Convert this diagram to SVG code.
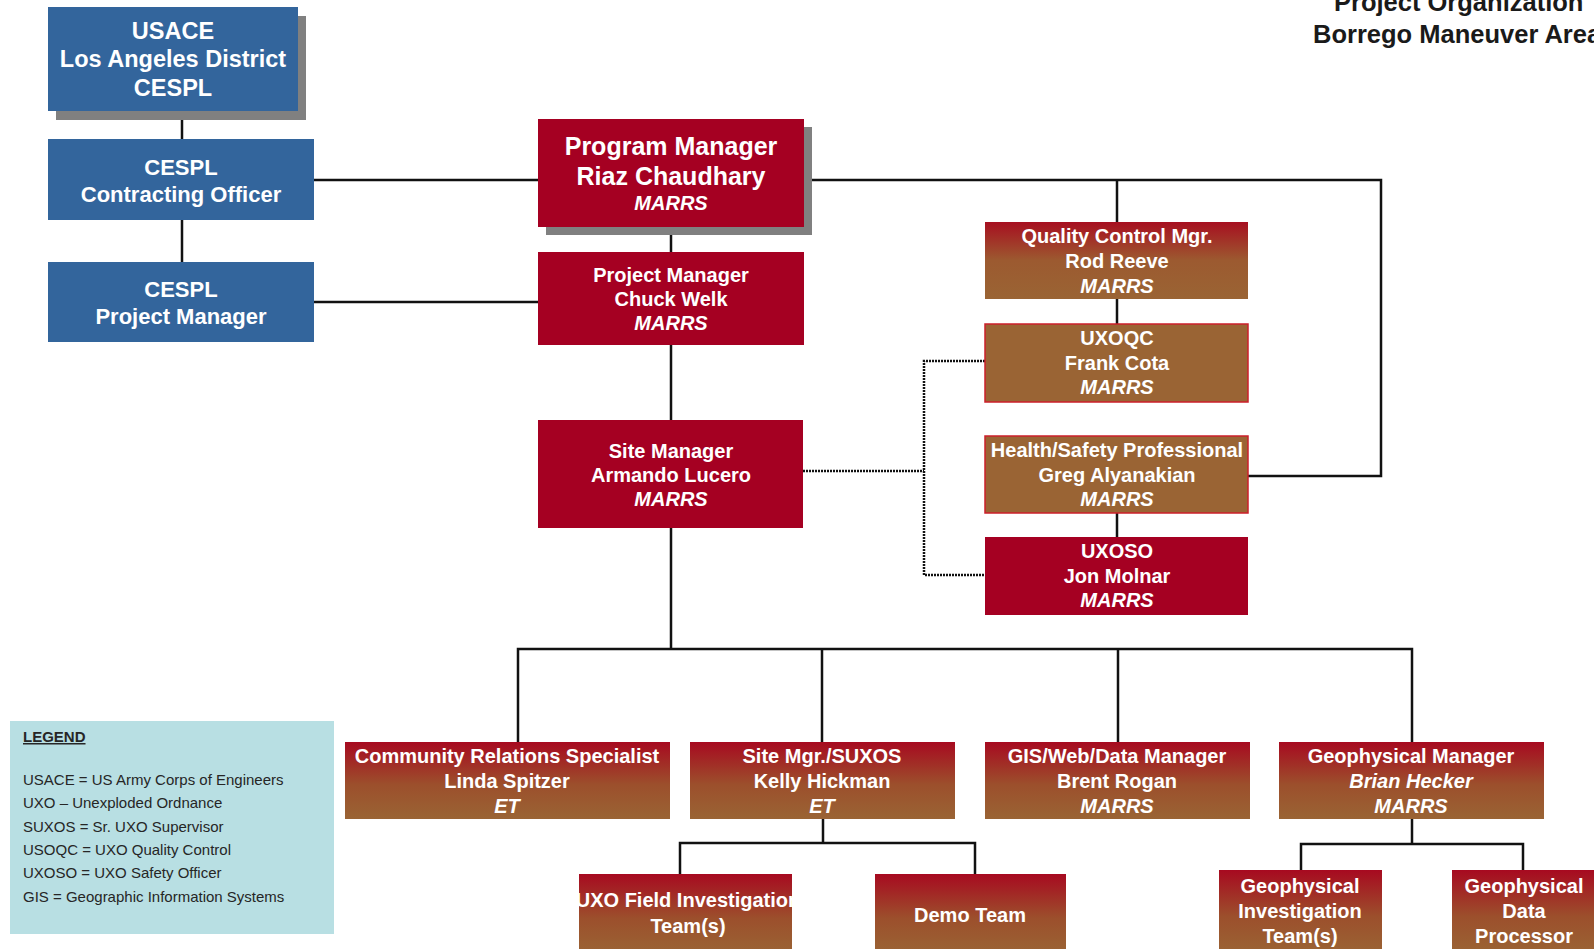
<svg xmlns="http://www.w3.org/2000/svg" width="1594" height="949" viewBox="0 0 1594 949">
<defs>
<linearGradient id="grad" x1="0" y1="0" x2="0" y2="1">
<stop offset="0" stop-color="#a70a20"/>
<stop offset="0.55" stop-color="#9c4f2c"/>
<stop offset="1" stop-color="#9a6434"/>
</linearGradient>
<linearGradient id="gradQC" x1="0" y1="0" x2="0" y2="1">
<stop offset="0" stop-color="#a70f20"/>
<stop offset="0.5" stop-color="#9c5a30"/>
<stop offset="1" stop-color="#9a6434"/>
</linearGradient>
<clipPath id="clipUxo"><rect x="579" y="874" width="213" height="80"/></clipPath>
</defs>
<style>
.blue{fill:#33659c}
.red{fill:#a50022}
.brown{fill:#9a6434;stroke:#cc1f2a;stroke-width:1.5}
.grad{fill:url(#grad)}
.shadow{fill:#808080}
.t{font-family:"Liberation Sans",Arial,sans-serif;font-weight:bold;fill:#ffffff;text-anchor:middle}
.s20{font-size:20px}
.s22{font-size:22px}
.s23{font-size:23.5px}
.s25{font-size:25px}
.i{font-style:italic}
.line{stroke:#111;stroke-width:2.5;fill:none}
.dot{stroke:#111;stroke-width:2.5;fill:none;stroke-dasharray:2 1}
.title{font-family:"Liberation Sans",Arial,sans-serif;font-weight:bold;font-size:25.5px;fill:#1a1a1a}
.leg{font-family:"Liberation Sans",Arial,sans-serif;font-size:15px;fill:#262626}
</style>
<rect width="1594" height="949" fill="#ffffff"/>

<g id="title">
<text class="title" x="1334" y="11">Project Organization</text>
<text class="title" x="1313" y="43">Borrego Maneuver Area</text>
</g>

<g id="connectors">
<path class="line" d="M182 111V139M182 220V262"/>
<path class="line" d="M314 180H538M314 302H538"/>
<path class="line" d="M671 235V252M671 345V420M671 528V649"/>
<path class="line" d="M804 180H1381V476H1248"/>
<path class="line" d="M1117 180V222M1117 299V324M1117 513V537"/>
<path class="line" d="M518 742V649H1412V742M822 649V742M1118 649V742"/>
<path class="line" d="M823 819V843M680 874V843H975V874"/>
<path class="line" d="M1412 819V844M1301 870V844H1523V870"/>
<path class="dot" d="M803 471H924M985 361H924V575H985"/>
</g>

<g id="n-usace">
<rect class="shadow" x="56" y="16" width="250" height="104"/>
<rect class="blue" x="48" y="7" width="250" height="104"/>
<text class="t s23" x="173" y="39">USACE</text>
<text class="t s23" x="173" y="67">Los Angeles District</text>
<text class="t s23" x="173" y="96">CESPL</text>
</g>
<g id="n-contracting">
<rect class="blue" x="48" y="139" width="266" height="81"/>
<text class="t s22" x="181" y="175">CESPL</text>
<text class="t s22" x="181" y="202">Contracting Officer</text>
</g>
<g id="n-cespl-pm">
<rect class="blue" x="48" y="262" width="266" height="80"/>
<text class="t s22" x="181" y="297">CESPL</text>
<text class="t s22" x="181" y="324">Project Manager</text>
</g>

<g id="n-program">
<rect class="shadow" x="546" y="127" width="266" height="108"/>
<rect class="red" x="538" y="119" width="266" height="108"/>
<text class="t s25" x="671" y="155">Program Manager</text>
<text class="t s25" x="671" y="185">Riaz Chaudhary</text>
<text class="t s20 i" x="671" y="210">MARRS</text>
</g>
<g id="n-project">
<rect class="red" x="538" y="252" width="266" height="93"/>
<text class="t s20" x="671" y="282">Project Manager</text>
<text class="t s20" x="671" y="306">Chuck Welk</text>
<text class="t s20 i" x="671" y="330">MARRS</text>
</g>
<g id="n-site">
<rect class="red" x="538" y="420" width="265" height="108"/>
<text class="t s20" x="671" y="458">Site Manager</text>
<text class="t s20" x="671" y="482">Armando Lucero</text>
<text class="t s20 i" x="671" y="506">MARRS</text>
</g>

<g id="n-qc">
<rect fill="url(#gradQC)" x="985" y="222" width="263" height="77"/>
<text class="t s20" x="1117" y="243">Quality Control Mgr.</text>
<text class="t s20" x="1117" y="268">Rod Reeve</text>
<text class="t s20 i" x="1117" y="293">MARRS</text>
</g>
<g id="n-uxoqc">
<rect class="brown" x="985" y="324" width="263" height="78"/>
<text class="t s20" x="1117" y="345">UXOQC</text>
<text class="t s20" x="1117" y="370">Frank Cota</text>
<text class="t s20 i" x="1117" y="394">MARRS</text>
</g>
<g id="n-hs">
<rect class="brown" x="985" y="436" width="263" height="77"/>
<text class="t s20" x="1117" y="457">Health/Safety Professional</text>
<text class="t s20" x="1117" y="482">Greg Alyanakian</text>
<text class="t s20 i" x="1117" y="506">MARRS</text>
</g>
<g id="n-uxoso">
<rect class="red" x="985" y="537" width="263" height="78"/>
<text class="t s20" x="1117" y="558">UXOSO</text>
<text class="t s20" x="1117" y="583">Jon Molnar</text>
<text class="t s20 i" x="1117" y="607">MARRS</text>
</g>

<g id="n-community">
<rect class="grad" x="345" y="742" width="325" height="77"/>
<text class="t s20" x="507" y="763">Community Relations Specialist</text>
<text class="t s20" x="507" y="788">Linda Spitzer</text>
<text class="t s20 i" x="507" y="813">ET</text>
</g>
<g id="n-suxos">
<rect class="grad" x="690" y="742" width="265" height="77"/>
<text class="t s20" x="822" y="763">Site Mgr./SUXOS</text>
<text class="t s20" x="822" y="788">Kelly Hickman</text>
<text class="t s20 i" x="822" y="813">ET</text>
</g>
<g id="n-gis">
<rect class="grad" x="985" y="742" width="265" height="77"/>
<text class="t s20" x="1117" y="763">GIS/Web/Data Manager</text>
<text class="t s20" x="1117" y="788">Brent Rogan</text>
<text class="t s20 i" x="1117" y="813">MARRS</text>
</g>
<g id="n-geomgr">
<rect class="grad" x="1279" y="742" width="265" height="77"/>
<text class="t s20" x="1411" y="763">Geophysical Manager</text>
<text class="t s20 i" x="1411" y="788">Brian Hecker</text>
<text class="t s20 i" x="1411" y="813">MARRS</text>
</g>

<g id="n-uxofield">
<rect class="grad" x="579" y="874" width="213" height="80"/>
<g clip-path="url(#clipUxo)">
<text class="t s20" x="688" y="907">UXO Field Investigation</text>
</g>
<text class="t s20" x="688" y="933">Team(s)</text>
</g>
<g id="n-demo">
<rect class="grad" x="875" y="874" width="191" height="80"/>
<text class="t s20" x="970" y="922">Demo Team</text>
</g>
<g id="n-geoinv">
<rect class="grad" x="1219" y="870" width="163" height="84"/>
<text class="t s20" x="1300" y="893">Geophysical</text>
<text class="t s20" x="1300" y="918">Investigation</text>
<text class="t s20" x="1300" y="943">Team(s)</text>
</g>
<g id="n-geodata">
<rect class="grad" x="1452" y="870" width="146" height="84"/>
<text class="t s20" x="1524" y="893">Geophysical</text>
<text class="t s20" x="1524" y="918">Data</text>
<text class="t s20" x="1524" y="943">Processor</text>
</g>

<g id="legend">
<rect x="10" y="721" width="324" height="213" fill="#b8dfe3"/>
<text class="leg" x="23" y="742" font-weight="bold" text-decoration="underline">LEGEND</text>
<text class="leg" x="23" y="785">USACE = US Army Corps of Engineers</text>
<text class="leg" x="23" y="808">UXO – Unexploded Ordnance</text>
<text class="leg" x="23" y="832">SUXOS = Sr. UXO Supervisor</text>
<text class="leg" x="23" y="855">USOQC = UXO Quality Control</text>
<text class="leg" x="23" y="878">UXOSO = UXO Safety Officer</text>
<text class="leg" x="23" y="902">GIS = Geographic Information Systems</text>
</g>
</svg>
